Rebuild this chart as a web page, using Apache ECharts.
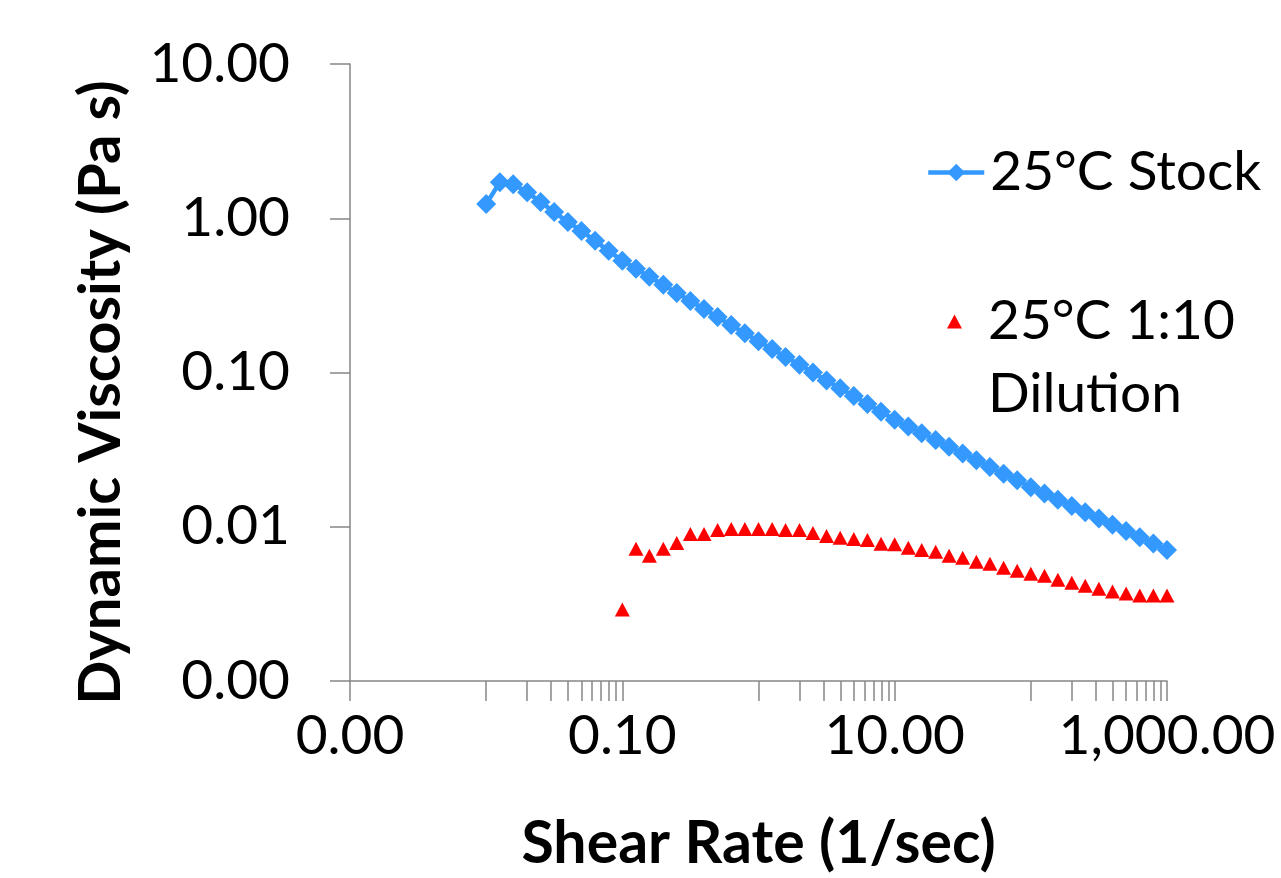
<!DOCTYPE html>
<html>
<head>
<meta charset="utf-8">
<title>Dynamic Viscosity vs Shear Rate</title>
<script src="https://cdn.jsdelivr.net/npm/echarts@6/dist/echarts.min.js"></script>
<style>
  html, body { margin: 0; padding: 0; background: #fff; }
  #main { width: 1281px; height: 878px; }
</style>
</head>
<body>
<div id="main"></div>
<script>
// shear rate (1/sec), log sweep ~10 points per decade
var shearStock = [0.01, 0.0126, 0.0158, 0.02, 0.0251, 0.0316, 0.0398, 0.0501, 0.0631, 0.0794,
  0.1, 0.126, 0.158, 0.2, 0.251, 0.316, 0.398, 0.501, 0.631, 0.794,
  1, 1.26, 1.58, 2, 2.51, 3.16, 3.98, 5.01, 6.31, 7.94,
  10, 12.6, 15.8, 20, 25.1, 31.6, 39.8, 50.1, 63.1, 79.4,
  100, 126, 158, 200, 251, 316, 398, 501, 631, 794, 1000];
// dynamic viscosity (Pa s), 25°C stock
var viscStock = [1.235, 1.712, 1.662, 1.476, 1.273, 1.097, 0.946, 0.828, 0.714, 0.615,
  0.530, 0.4705, 0.4172, 0.3700, 0.3281, 0.2909, 0.2580, 0.2288, 0.2029, 0.1799,
  0.1595, 0.1419, 0.1262, 0.1122, 0.0999, 0.0888, 0.0790, 0.0703, 0.0625, 0.0556,
  0.0494, 0.0447, 0.0404, 0.0365, 0.0330, 0.0299, 0.0270, 0.0244, 0.0221, 0.0200,
  0.0180, 0.0164, 0.01496, 0.01362, 0.01241, 0.01130, 0.01029, 0.00937, 0.00854, 0.00778, 0.00708];

var shearDilution = [0.1, 0.126, 0.158, 0.2, 0.251, 0.316, 0.398, 0.501, 0.631, 0.794,
  1, 1.26, 1.58, 2, 2.51, 3.16, 3.98, 5.01, 6.31, 7.94,
  10, 12.6, 15.8, 20, 25.1, 31.6, 39.8, 50.1, 63.1, 79.4,
  100, 126, 158, 200, 251, 316, 398, 501, 631, 794, 1000];
// dynamic viscosity (Pa s), 25°C 1:10 dilution
var viscDilution = [0.00291, 0.00719, 0.00649, 0.00719, 0.00786, 0.00898, 0.00898, 0.00953, 0.00968, 0.00968,
  0.00968, 0.00968, 0.00953, 0.00953, 0.00912, 0.00872, 0.00847, 0.00834, 0.00822, 0.00775,
  0.00770, 0.00730, 0.00708, 0.00688, 0.00649, 0.00630, 0.00594, 0.00576, 0.00543, 0.00519,
  0.00496, 0.00482, 0.00454, 0.00434, 0.00415, 0.00397, 0.00380, 0.00369, 0.00358, 0.00358, 0.00358];

var xLabelValues = [0.001, 0.1, 10, 1000];
var xTickValues = [0.001,
  0.01, 0.02, 0.03, 0.04, 0.05, 0.06, 0.07, 0.08, 0.09, 0.1,
  1, 2, 3, 4, 5, 6, 7, 8, 9, 10,
  100, 200, 300, 400, 500, 600, 700, 800, 900, 1000];
var yTickValues = [0.001, 0.01, 0.1, 1, 10];

var font = 'Lato, "Open Sans", sans-serif';
var axisGrey = '#868686';

function fmt(v) {
  return v.toLocaleString('en-US', {minimumFractionDigits: 2, maximumFractionDigits: 2});
}
function pairs(xs, ys) {
  return xs.map(function (x, i) { return [x, ys[i]]; });
}

var chart = echarts.init(document.getElementById('main'));

var option = {
  animation: false,
  backgroundColor: '#fff',
  grid: { left: 350, right: 114, top: 64, bottom: 193 },
  legend: [{
    data: ['25°C Stock'],
    left: 926, top: 145, padding: 0,
    itemWidth: 56, itemHeight: 22,
    selectedMode: false,
    lineStyle: { width: 4.5 },
    textStyle: { fontFamily: font, fontSize: 55, color: '#000', padding: [0, 0, 0, 1] }
  }, {
    data: ['25°C 1:10\nDilution'],
    left: 947, top: 212, padding: 0,
    itemWidth: 15, itemHeight: 14,
    selectedMode: false,
    // blank first line keeps the marker level with "25°C 1:10"
    formatter: function (name) { return ' \n' + name; },
    textStyle: { fontFamily: font, fontSize: 55, lineHeight: 73, color: '#000', padding: [0, 0, 0, 21] }
  }],
  xAxis: {
    type: 'log', logBase: 10, min: 0.001, max: 1000,
    name: 'Shear Rate (1/sec)', nameLocation: 'middle', nameGap: 133,
    nameTextStyle: { fontFamily: font, fontSize: 59, fontWeight: 'bold', color: '#000' },
    axisLine: { lineStyle: { color: axisGrey, width: 1.5 } },
    axisTick: { inside: false, length: 20, customValues: xTickValues, lineStyle: { color: axisGrey, width: 1.5 } },
    axisLabel: { customValues: xLabelValues, formatter: fmt, margin: 28, fontFamily: font, fontSize: 55, color: '#000' },
    splitLine: { show: false }
  },
  yAxis: {
    type: 'log', logBase: 10, min: 0.001, max: 10,
    name: 'Dynamic Viscosity (Pa s)', nameLocation: 'middle', nameGap: 220,
    nameTextStyle: { fontFamily: font, fontSize: 58, fontWeight: 'bold', color: '#000', padding: [0, 40, 0, 0] },
    axisLine: { lineStyle: { color: axisGrey, width: 1.5 } },
    axisTick: { inside: false, length: 20, customValues: yTickValues, lineStyle: { color: axisGrey, width: 1.5 } },
    axisLabel: { customValues: yTickValues, formatter: fmt, margin: 60, fontFamily: font, fontSize: 55, color: '#000' },
    splitLine: { show: false }
  },
  series: [{
    name: '25°C Stock',
    type: 'line',
    data: pairs(shearStock, viscStock),
    symbol: 'diamond',
    symbolSize: 20,
    showSymbol: true,
    color: '#3399ff',
    lineStyle: { color: '#3399ff', width: 4.5 },
    itemStyle: { color: '#3399ff' }
  }, {
    name: '25°C 1:10\nDilution',
    type: 'scatter',
    data: pairs(shearDilution, viscDilution),
    symbol: 'triangle',
    symbolSize: [15, 14],
    itemStyle: { color: '#ff0000', opacity: 1 }
  }]
};
chart.setOption(option);
</script>
</body>
</html>
